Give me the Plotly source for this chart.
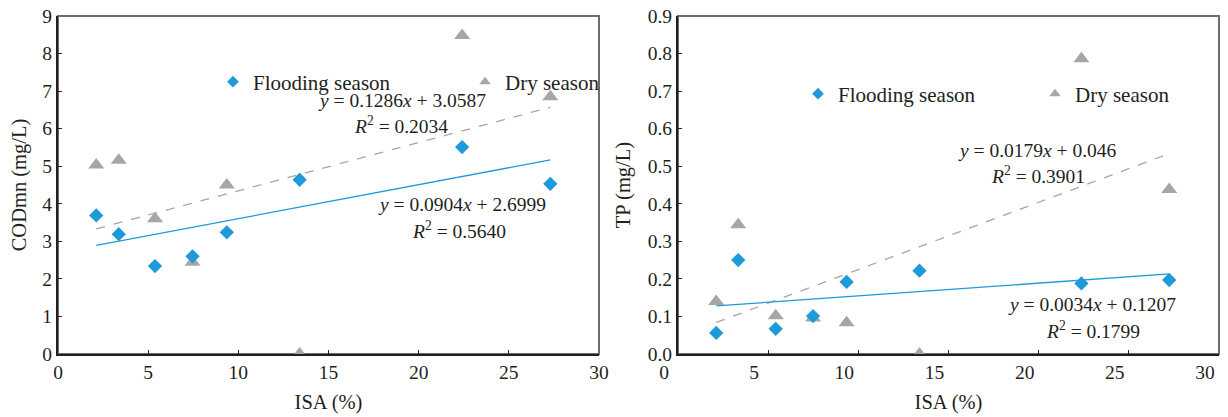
import plotly.graph_objects as go

# ---------------- data ----------------
isa_cod = [2.12, 3.37, 5.38, 7.46, 9.36, 13.40, 22.41, 27.30]
cod_flood = [3.69, 3.19, 2.34, 2.60, 3.24, 4.64, 5.51, 4.53]
cod_dry = [5.03, 5.16, 3.60, 2.44, 4.50, 0.00, 8.48, 6.85]

isa_tp = [2.12, 3.34, 5.42, 7.49, 9.35, 13.39, 22.37, 27.24]
tp_flood = [0.056, 0.250, 0.067, 0.101, 0.192, 0.222, 0.188, 0.197]
tp_dry = [0.140, 0.344, 0.102, 0.096, 0.083, 0.000, 0.786, 0.438]

# regression coefficients (slope, intercept, R2)
cod_fit_flood = (0.0904, 2.6999, "0.5640")
cod_fit_dry = (0.1286, 3.0587, "0.2034")
tp_fit_flood = (0.0034, 0.1207, "0.1799")
tp_fit_dry = (0.0179, 0.046, "0.3901")

series_names = ["Flooding season", "Dry season"]
x_ticks = [0, 5, 10, 15, 20, 25, 30]

# ---------------- style ----------------
W, H = 1228, 417
BLUE = "#1f9ad8"
GRAY = "#a6a6a6"
FONT = "Liberation Serif"
TXT = "#231f20"


def px_x(p):
    return p / W


def px_y(p):
    return (H - p) / H


fig = go.Figure()


def add_panel(xs, yf, yd, fit_f, fit_d, xa, ya, legend_name):
    xmin, xmax = min(xs), max(xs)
    fig.add_trace(go.Scatter(
        x=[xmin, xmax], y=[fit_d[0] * xmin + fit_d[1], fit_d[0] * xmax + fit_d[1]],
        mode="lines", line=dict(color=GRAY, width=1.3, dash="dash"),
        xaxis=xa, yaxis=ya, showlegend=False, hoverinfo="skip"))
    fig.add_trace(go.Scatter(
        x=[xmin, xmax], y=[fit_f[0] * xmin + fit_f[1], fit_f[0] * xmax + fit_f[1]],
        mode="lines", line=dict(color=BLUE, width=1.3),
        xaxis=xa, yaxis=ya, showlegend=False, hoverinfo="skip"))
    fig.add_trace(go.Scatter(
        x=xs, y=yd, mode="markers", name=series_names[1],
        marker=dict(symbol="triangle-up", size=14, color=GRAY),
        xaxis=xa, yaxis=ya, showlegend=False))
    fig.add_trace(go.Scatter(
        x=xs, y=yf, mode="markers", name=series_names[0],
        marker=dict(symbol="diamond", size=11, color=BLUE),
        xaxis=xa, yaxis=ya, showlegend=False))
    fig.add_trace(go.Scatter(
        x=[None], y=[None], mode="markers", name=series_names[0],
        marker=dict(symbol="diamond", size=9, color=BLUE),
        xaxis=xa, yaxis=ya, legend=legend_name, showlegend=True))
    fig.add_trace(go.Scatter(
        x=[None], y=[None], mode="markers", name=series_names[1],
        marker=dict(symbol="triangle-up", size=10, color=GRAY),
        xaxis=xa, yaxis=ya, legend=legend_name, showlegend=True))


add_panel(isa_cod, cod_flood, cod_dry, cod_fit_flood, cod_fit_dry, "x", "y", "legend")
add_panel(isa_tp, tp_flood, tp_dry, tp_fit_flood, tp_fit_dry, "x2", "y2", "legend2")


def eq_text(fit, dec_b):
    return "<i>y</i> = %.4f<i>x</i> + %.*f" % (fit[0], dec_b, fit[1])


def r2_text(fit):
    return "<i>R</i><sup>2</sup> = %s" % fit[2]


ann_font = dict(family=FONT, size=19.5, color=TXT)
annotations = [
    dict(x=19.1, y=6.76, xref="x", yref="y", text=eq_text(cod_fit_dry, 4)),
    dict(x=19.04, y=6.11, xref="x", yref="y", text=r2_text(cod_fit_dry)),
    dict(x=22.39, y=3.99, xref="x", yref="y", text=eq_text(cod_fit_flood, 4)),
    dict(x=22.26, y=3.30, xref="x", yref="y", text=r2_text(cod_fit_flood)),
    dict(x=19.95, y=0.542, xref="x2", yref="y2", text=eq_text(tp_fit_dry, 3)),
    dict(x=19.95, y=0.476, xref="x2", yref="y2", text=r2_text(tp_fit_dry)),
    dict(x=22.96, y=0.131, xref="x2", yref="y2", text=eq_text(tp_fit_flood, 4)),
    dict(x=23.0, y=0.063, xref="x2", yref="y2", text=r2_text(tp_fit_flood)),
]
for a in annotations:
    a.update(showarrow=False, font=ann_font, xanchor="center", yanchor="middle")

shapes = []
for xr, yr in [("x domain", "y domain"), ("x2 domain", "y2 domain")]:
    shapes.append(dict(type="rect", xref=xr, yref=yr, x0=0, x1=1, y0=0, y1=1,
                       line=dict(color="#6d6d6d", width=2), layer="below"))

ydom = [px_y(354), px_y(16)]
axis_common = dict(showgrid=False, zeroline=False, showline=True, linecolor="#231f20",
                   linewidth=2, ticks="inside", ticklen=4, tickcolor="#231f20",
                   automargin=False,
                   tickfont=dict(family=FONT, size=19.5, color=TXT))
title_font = dict(family=FONT, size=20.5, color=TXT)
legend_font = dict(family=FONT, size=21, color=TXT)

fig.update_layout(
    width=W, height=H, autosize=False,
    margin=dict(l=0, r=0, t=0, b=0, autoexpand=False),
    paper_bgcolor="white", plot_bgcolor="white",
    font=dict(family=FONT, size=18, color=TXT),
    xaxis=dict(domain=[px_x(58), px_x(599)], range=[0, 30], tickvals=x_ticks,
               title=dict(text="ISA (%)", font=title_font, standoff=12),
               anchor="y", **axis_common),
    yaxis=dict(domain=ydom, range=[0, 9], dtick=1,
               title=dict(text="CODmn (mg/L)", font=title_font, standoff=10),
               anchor="x", **axis_common),
    xaxis2=dict(domain=[px_x(678), px_x(1219)], range=[0, 30], tickvals=x_ticks,
                ticklabelshift=-14,
                title=dict(text="ISA (%)", font=title_font, standoff=12),
                anchor="y2", **axis_common),
    yaxis2=dict(domain=ydom, range=[0, 0.9], dtick=0.1, tickformat=".1f",
                title=dict(text="TP (mg/L)", font=title_font, standoff=12),
                anchor="x2", **axis_common),
    legend=dict(orientation="h", x=px_x(233 - 20), xanchor="left", y=px_y(82), yanchor="middle",
                bgcolor="rgba(0,0,0,0)", entrywidth=207, entrywidthmode="pixels",
                itemwidth=30, font=legend_font),
    legend2=dict(orientation="h", x=px_x(818 - 20), xanchor="left", y=px_y(94), yanchor="middle",
                 bgcolor="rgba(0,0,0,0)", entrywidth=192, entrywidthmode="pixels",
                 itemwidth=30, font=legend_font),
    annotations=annotations,
    shapes=shapes,
)

fig.write_html("out.html")
